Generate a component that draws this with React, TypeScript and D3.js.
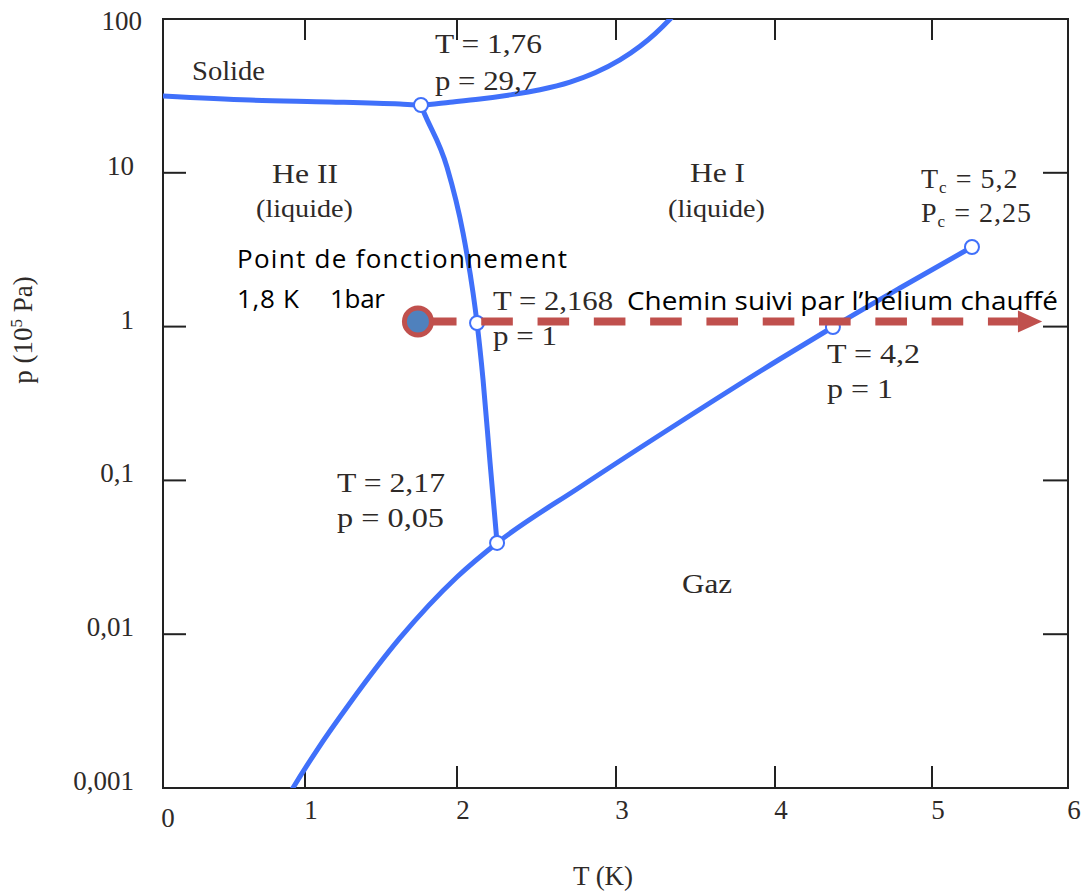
import React from 'react';
import * as d3 from 'd3';

// ---- Axis ticks ----
const xTickValues = [0, 1, 2, 3, 4, 5, 6];
const xTickLabels = ['0', '1', '2', '3', '4', '5', '6'];
const yTickValues = [0.001, 0.01, 0.1, 1, 10, 100];
const yTickLabels = ['0,001', '0,01', '0,1', '1', '10', '100'];

// ---- Phase boundaries (T in K, p in 10^5 Pa) ----
const meltingT = [0, 0.613, 1.164, 1.625, 1.763, 1.954, 2.145, 2.333, 2.522, 2.711, 2.868, 3.025, 3.151, 3.245, 3.34, 3.39];
const meltingP = [31.6, 29.7, 28.9, 28.0, 27.6, 28.8, 30.2, 32.1, 34.7, 38.9, 44.7, 54.2, 66.5, 80.1, 100, 114];

const lambdaT = [1.763, 1.776, 1.934, 2.038, 2.101, 2.126, 2.164, 2.208, 2.252];
const lambdaP = [27.6, 25.6, 10.9, 4.06, 1.654, 1.055, 0.4495, 0.1298, 0.0392];

const vapourT = [0.894, 0.915, 1.079, 1.296, 1.625, 2.0, 2.252, 2.774, 3.403, 4.032, 4.369, 4.796, 5.294];
const vapourP = [0.000928, 0.001, 0.001766, 0.00357, 0.00945, 0.02354, 0.0392, 0.0906, 0.2397, 0.6157, 0.994, 1.782, 3.293];

// ---- Marked points ----
const pointT = [1.763, 2.126, 2.252, 4.369, 5.294];
const pointP = [27.6, 1.055, 0.0392, 0.994, 3.293];

// ---- Operating point and heating path ----
const opT = 1.743;
const opP = 1.08;
const pathEndT = 5.632;
const arrowTipT = 5.81;

const W = 1083;
const H = 895;
const BLUE = '#4070fa';
const RED = '#c0504d';
const SERIF = '"Liberation Serif", "Times New Roman", serif';
const SANS = '"Open Sans", "Noto Sans", sans-serif';
const TXT = '#2e2a28';

export default function App() {
  const x = d3.scaleLinear().domain(xTickValues).range([163, 305, 457, 616, 775, 932, 1068]);
  const y = d3.scaleLog().domain([0.001, 100]).range([788, 19]);
  const [x0, x1] = [x(0), x(6)];
  const [y0, y1] = [y(0.001), y(100)];

  const line = d3
    .line<[number, number]>()
    .x((d) => x(d[0]))
    .y((d) => y(d[1]))
    .curve(d3.curveMonotoneX);

  const zip = (a: number[], b: number[]) => a.map((v, i) => [v, b[i]] as [number, number]);
  const curves = [zip(meltingT, meltingP), zip(lambdaT, lambdaP), zip(vapourT, vapourP)];

  const serifText = (props: any, content: any) => (
    <text fontFamily={SERIF} fontSize={28} fill={TXT} lengthAdjust="spacingAndGlyphs" {...props}>
      {content}
    </text>
  );

  const py = y(opP);
  const arrowBase = x(pathEndT);
  const arrowTip = x(arrowTipT);

  return (
    <svg width={W} height={H} style={{ position: 'absolute', left: 0, top: 0, background: '#fff' }}>
      <defs>
        <clipPath id="plotClip">
          <rect x={x0} y={y1} width={x1 - x0} height={y0 - y1} />
        </clipPath>
      </defs>
      <rect x={0} y={0} width={W} height={H} fill="#fff" />

      {/* Frame */}
      <rect x={x0} y={y1} width={x1 - x0} height={y0 - y1} fill="none" stroke="#222" strokeWidth={2} />

      {/* X ticks: bottom and top */}
      {xTickValues.slice(1, -1).map((t) => (
        <g key={'xt' + t}>
          <line x1={x(t)} x2={x(t)} y1={y0} y2={y0 - 22} stroke="#222" strokeWidth={2} />
          <line x1={x(t)} x2={x(t)} y1={y1} y2={y1 + 21} stroke="#222" strokeWidth={2} />
        </g>
      ))}
      {/* Y ticks: left and right */}
      {yTickValues.slice(1, -1).map((v) => (
        <g key={'yt' + v}>
          <line x1={x0} x2={x0 + 23} y1={y(v)} y2={y(v)} stroke="#222" strokeWidth={2} />
          <line x1={x1} x2={x1 - 25} y1={y(v)} y2={y(v)} stroke="#222" strokeWidth={2} />
        </g>
      ))}

      {/* X tick labels */}
      {xTickValues.map((t, i) =>
        serifText(
          { key: 'xl' + t, x: x(t) + (t === 0 ? 5 : 6), y: t === 0 ? 827 : 819, textAnchor: 'middle', fontSize: 27 },
          xTickLabels[i]
        )
      )}
      {/* Y tick labels */}
      {yTickValues.map((v, i) =>
        serifText(
          { key: 'yl' + v, x: v === 100 ? 142 : 134, y: v === 100 ? 30 : y(v) + 2, textAnchor: 'end', fontSize: 27 },
          yTickLabels[i]
        )
      )}

      {/* Axis titles */}
      {serifText({ x: 603, y: 885, textAnchor: 'middle', fontSize: 27 }, 'T (K)')}
      <text
        transform="translate(32,330) rotate(-90)"
        textAnchor="middle"
        fontFamily={SERIF}
        fontSize={27}
        fill={TXT}
      >
        p (10
        <tspan fontSize={17} dy={-10}>
          5
        </tspan>
        <tspan dy={10}> Pa)</tspan>
      </text>

      {/* Phase boundaries */}
      <g clipPath="url(#plotClip)">
        {curves.map((c, i) => (
          <path key={'c' + i} d={line(c) || ''} fill="none" stroke={BLUE} strokeWidth={5} strokeLinecap="round" />
        ))}
      </g>

      {/* Marked points */}
      {pointT.map((t, i) => (
        <circle key={'p' + i} cx={x(t)} cy={y(pointP[i])} r={7} fill="#fff" stroke={BLUE} strokeWidth={2} />
      ))}

      {/* Heating path */}
      <line
        x1={x(opT)}
        x2={arrowBase}
        y1={py}
        y2={py}
        stroke={RED}
        strokeWidth={8}
        strokeDasharray="31.6 24.7"
        strokeDashoffset={49.3}
      />
      <polygon points={`${arrowBase},${py - 11} ${arrowTip},${py} ${arrowBase},${py + 11}`} fill={RED} />
      <circle cx={x(opT)} cy={py} r={13.5} fill="#4f81bd" stroke={RED} strokeWidth={5} />

      {/* Region labels */}
      {serifText({ x: 192, y: 80, textLength: 73 }, 'Solide')}
      {serifText({ x: 272, y: 183, textLength: 66 }, 'He II')}
      {serifText({ x: 256, y: 217, textLength: 97, fontSize: 26 }, '(liquide)')}
      {serifText({ x: 690, y: 182, textLength: 55 }, 'He I')}
      {serifText({ x: 668, y: 217, textLength: 97, fontSize: 26 }, '(liquide)')}
      {serifText({ x: 682, y: 593, textLength: 50 }, 'Gaz')}

      {/* Point annotations */}
      {serifText({ x: 435, y: 53, textLength: 107 }, 'T = 1,76')}
      {serifText({ x: 435, y: 90, textLength: 102 }, 'p = 29,7')}
      {serifText({ x: 493, y: 310, textLength: 120 }, 'T = 2,168')}
      {serifText({ x: 493, y: 345, textLength: 64 }, 'p = 1')}
      {serifText({ x: 337, y: 492, textLength: 108 }, 'T = 2,17')}
      {serifText({ x: 337, y: 527, textLength: 107 }, 'p = 0,05')}
      {serifText({ x: 827, y: 363, textLength: 93 }, 'T = 4,2')}
      {serifText({ x: 827, y: 398, textLength: 66 }, 'p = 1')}
      <text x={921} y={188} fontFamily={SERIF} fontSize={28} fill={TXT} letterSpacing={1}>
        T<tspan fontSize={17} dy={5}>c</tspan>
        <tspan dy={-5}> = 5,2</tspan>
      </text>
      <text x={921} y={222} fontFamily={SERIF} fontSize={28} fill={TXT} letterSpacing={1}>
        P<tspan fontSize={17} dy={5}>c</tspan>
        <tspan dy={-5}> = 2,25</tspan>
      </text>

      {/* Overlay annotations */}
      <text x={237} y={268} fontFamily={SANS} fontSize={26} fill="#000" textLength={330}>
        Point de fonctionnement
      </text>
      <text x={237} y={308} fontFamily={SANS} fontSize={26} fill="#000" textLength={62}>
        1,8 K
      </text>
      <text x={330} y={308} fontFamily={SANS} fontSize={26} fill="#000" textLength={55}>
        1bar
      </text>
      <text x={627} y={310} fontFamily={SANS} fontSize={26} fill="#000" textLength={431} lengthAdjust="spacingAndGlyphs">
        Chemin suivi par l’hélium chauffé
      </text>
    </svg>
  );
}
